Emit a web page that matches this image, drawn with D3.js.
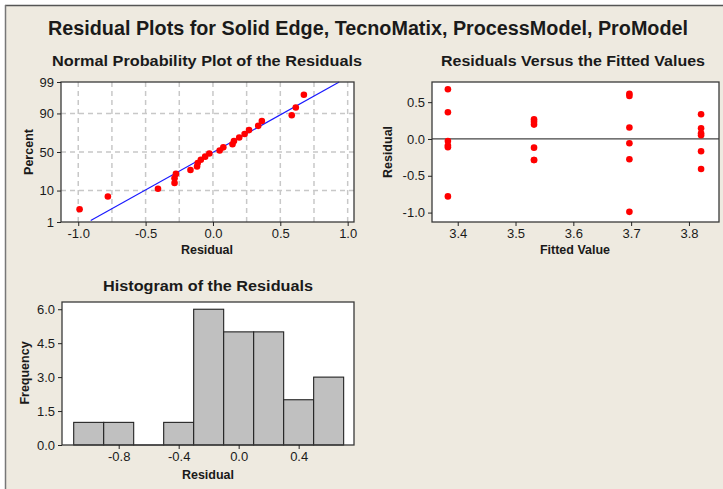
<!DOCTYPE html>
<html>
<head>
<meta charset="utf-8">
<script src="https://cdn.jsdelivr.net/npm/d3@7"></script>
<style>
  html, body { margin: 0; padding: 0; background: #ffffff; }
  svg { display: block; }
  text { font-family: "Liberation Sans", Arial, sans-serif; fill: #1a1a1a; }
  .ttl { font-weight: bold; }
</style>
</head>
<body>
<svg id="chart" width="723" height="489"></svg>
<script>
// ---- data ----
const fittedLevels = [3.383, 3.532, 3.697, 3.821];
const residualsG1 = [0.675, 0.363, -0.027, -0.090, -0.113, -0.780];
const residualsG2 = [0.268, 0.235, 0.195, -0.118, -0.285, -0.285];
const residualsG3 = [0.615, 0.585, 0.156, -0.058, -0.275, -0.990];
const residualsG4 = [0.336, 0.145, 0.077, 0.050, -0.167, -0.408];
const percentTicks = [1, 10, 50, 90, 99];
const normXTicks = [-1.0, -0.5, 0.0, 0.5, 1.0];
const normXGrid = [-1.0, -0.75, -0.5, -0.25, 0.0, 0.25, 0.5, 0.75, 1.0];
const normYGrid = [10, 50, 90];
const fitXTicks = [3.4, 3.5, 3.6, 3.7, 3.8];
const fitYTicks = [-1.0, -0.5, 0.0, 0.5];
const binEdges = [-1.1, -0.9, -0.7, -0.5, -0.3, -0.1, 0.1, 0.3, 0.5, 0.7];
const histXTicks = [-0.8, -0.4, 0.0, 0.4];
const histYTicks = [0.0, 1.5, 3.0, 4.5, 6.0];

const groups = [residualsG1, residualsG2, residualsG3, residualsG4];
const points = [];
groups.forEach((g, i) => g.forEach(r => points.push({ fit: fittedLevels[i], res: r })));
const allRes = points.map(p => p.res);

// ---- helpers ----
function invNorm(p) {
  const a = [-3.969683028665376e+01, 2.209460984245205e+02, -2.759285104469687e+02, 1.383577518672690e+02, -3.066479806614716e+01, 2.506628277459239e+00];
  const b = [-5.447609879822406e+01, 1.615858368580409e+02, -1.556989798598866e+02, 6.680131188771972e+01, -1.328068155288572e+01];
  const c = [-7.784894002430293e-03, -3.223964580411365e-01, -2.400758277161838e+00, -2.549732539343734e+00, 4.374664141464968e+00, 2.938163982698783e+00];
  const d = [7.784695709041462e-03, 3.224671290700398e-01, 2.445134137142996e+00, 3.754408661907416e+00];
  const pl = 0.02425, ph = 1 - pl;
  let q, r;
  if (p < pl) { q = Math.sqrt(-2 * Math.log(p)); return (((((c[0]*q+c[1])*q+c[2])*q+c[3])*q+c[4])*q+c[5]) / ((((d[0]*q+d[1])*q+d[2])*q+d[3])*q+1); }
  if (p > ph) { q = Math.sqrt(-2 * Math.log(1 - p)); return -(((((c[0]*q+c[1])*q+c[2])*q+c[3])*q+c[4])*q+c[5]) / ((((d[0]*q+d[1])*q+d[2])*q+d[3])*q+1); }
  q = p - 0.5; r = q * q;
  return (((((a[0]*r+a[1])*r+a[2])*r+a[3])*r+a[4])*r+a[5])*q / (((((b[0]*r+b[1])*r+b[2])*r+b[3])*r+b[4])*r+1);
}
const fmt1 = d => d3.format(".1f")(d).replace("\u2212", "-");

const svg = d3.select("#chart");
const BG = "#EEEAE0";
const FRAME = "#3a3a3a";

// outer panel
svg.append("rect").attr("x", 5).attr("y", 5).attr("width", 718).attr("height", 484).attr("fill", BG);
svg.append("line").attr("x1", 5).attr("x2", 723).attr("y1", 5.5).attr("y2", 5.5).attr("stroke", "#555").attr("stroke-width", 1.5);
svg.append("line").attr("x1", 5.5).attr("x2", 5.5).attr("y1", 5).attr("y2", 489).attr("stroke", "#777").attr("stroke-width", 1.5);

function fitText(sel, width) {
  sel.attr("textLength", width).attr("lengthAdjust", "spacingAndGlyphs");
  return sel;
}

// titles
fitText(svg.append("text").attr("class", "ttl").attr("x", 368).attr("y", 35).attr("text-anchor", "middle")
  .attr("font-size", 19.5).text("Residual Plots for Solid Edge, TecnoMatix, ProcessModel, ProModel"), 640);
fitText(svg.append("text").attr("class", "ttl").attr("x", 207).attr("y", 66).attr("text-anchor", "middle")
  .attr("font-size", 14.5).text("Normal Probability Plot of the Residuals"), 310);
fitText(svg.append("text").attr("class", "ttl").attr("x", 573).attr("y", 66).attr("text-anchor", "middle")
  .attr("font-size", 14.5).text("Residuals Versus the Fitted Values"), 264);
fitText(svg.append("text").attr("class", "ttl").attr("x", 208).attr("y", 291).attr("text-anchor", "middle")
  .attr("font-size", 14.5).text("Histogram of the Residuals"), 210);

function styleAxis(g) {
  g.select(".domain").remove();
  g.selectAll(".tick line").attr("stroke", "#222");
  g.selectAll(".tick text").attr("font-size", 13).attr("fill", "#111").attr("font-family", "Liberation Sans, Arial, sans-serif");
}

function box(g, x0, y0, x1, y1) {
  g.append("rect").attr("x", x0).attr("y", y0).attr("width", x1 - x0).attr("height", y1 - y0)
    .attr("fill", "none").attr("stroke", FRAME).attr("stroke-width", 1.3);
}

function axisLabel(x, y, txt, rotate) {
  const t = svg.append("text").attr("class", "ttl").attr("text-anchor", "middle").attr("font-size", 12.5).text(txt);
  if (rotate) t.attr("transform", `translate(${x},${y}) rotate(-90)`);
  else t.attr("x", x).attr("y", y);
  return t;
}

// ---------- Normal probability plot ----------
{
  const L = 61, R = 354, T = 82, B = 222;
  const x = d3.scaleLinear().domain([-1.128, 1.047]).range([L, R]);
  const zTop = invNorm(0.99), zBot = invNorm(0.01);
  const y = d3.scaleLinear().domain([zBot, zTop]).range([B, T]);
  const g = svg.append("g");
  g.append("rect").attr("x", L).attr("y", T).attr("width", R - L).attr("height", B - T).attr("fill", "#fff");
  g.selectAll(".vg").data(normXGrid).join("line")
    .attr("x1", d => x(d)).attr("x2", d => x(d)).attr("y1", T).attr("y2", B)
    .attr("stroke", "#c8c8c8").attr("stroke-width", 1.5).attr("stroke-dasharray", "5,4");
  g.selectAll(".hg").data(normYGrid).join("line")
    .attr("x1", L).attr("x2", R).attr("y1", d => y(invNorm(d / 100))).attr("y2", d => y(invNorm(d / 100)))
    .attr("stroke", "#c8c8c8").attr("stroke-width", 1.5).attr("stroke-dasharray", "5,4");
  const m = d3.mean(allRes), s = d3.deviation(allRes);
  const zl = [invNorm(0.0115), invNorm(0.99)];
  g.append("line").attr("x1", x(m + s * zl[0])).attr("y1", y(zl[0])).attr("x2", x(m + s * zl[1])).attr("y2", y(zl[1]))
    .attr("stroke", "#1a1aff").attr("stroke-width", 1.2);
  const sorted = allRes.slice().sort((a, b) => a - b);
  const n = sorted.length;
  g.selectAll(".pt").data(sorted).join("circle")
    .attr("cx", d => x(d)).attr("cy", (d, i) => y(invNorm((i + 1 - 0.3) / (n + 0.4))))
    .attr("r", 3.3).attr("fill", "#ff0000");
  box(g, L, T, R, B);
  const ax = g.append("g").attr("transform", `translate(0,${B})`)
    .call(d3.axisBottom(x).tickValues(normXTicks).tickFormat(fmt1).tickSizeOuter(0).tickSize(4).tickPadding(3));
  styleAxis(ax);
  const ay = g.append("g").attr("transform", `translate(${L},0)`)
    .call(d3.axisLeft(y).tickValues(percentTicks.map(p => invNorm(p / 100))).tickFormat((d, i) => percentTicks[i]).tickSizeOuter(0).tickSize(4).tickPadding(3));
  styleAxis(ay);
  axisLabel(207, 254, "Residual");
  axisLabel(33, 152, "Percent", true);
}

// ---------- Residuals vs fitted ----------
{
  const L = 432, R = 719, T = 82, B = 222;
  const x = d3.scaleLinear().domain([3.3555, 3.852]).range([L, R]);
  const y = d3.scaleLinear().domain([-1.128, 0.774]).range([B, T]);
  const g = svg.append("g");
  g.append("rect").attr("x", L).attr("y", T).attr("width", R - L).attr("height", B - T).attr("fill", "#fff");
  g.append("line").attr("x1", L).attr("x2", R).attr("y1", y(0)).attr("y2", y(0)).attr("stroke", "#444").attr("stroke-width", 1.2);
  g.selectAll(".pt").data(points).join("circle")
    .attr("cx", d => x(d.fit)).attr("cy", d => y(d.res)).attr("r", 3.3).attr("fill", "#ff0000");
  box(g, L, T, R, B);
  const ax = g.append("g").attr("transform", `translate(0,${B})`)
    .call(d3.axisBottom(x).tickValues(fitXTicks).tickFormat(fmt1).tickSizeOuter(0).tickSize(4).tickPadding(3));
  styleAxis(ax);
  const ay = g.append("g").attr("transform", `translate(${L},0)`)
    .call(d3.axisLeft(y).tickValues(fitYTicks).tickFormat(fmt1).tickSizeOuter(0).tickSize(4).tickPadding(3));
  styleAxis(ay);
  axisLabel(575, 254, "Fitted Value");
  axisLabel(392, 152, "Residual", true);
}

// ---------- Histogram ----------
{
  const L = 62, R = 354, T = 302, B = 445;
  const x = d3.scaleLinear().domain([-1.178, 0.769]).range([L, R]);
  const y = d3.scaleLinear().domain([0, 6.32]).range([B, T]);
  const bins = d3.bin().domain([binEdges[0], binEdges[binEdges.length - 1]]).thresholds(binEdges.slice(1, -1))(allRes);
  const g = svg.append("g");
  g.append("rect").attr("x", L).attr("y", T).attr("width", R - L).attr("height", B - T).attr("fill", "#fff");
  g.selectAll(".bar").data(bins).join("rect")
    .attr("x", d => x(d.x0)).attr("width", d => x(d.x1) - x(d.x0))
    .attr("y", d => y(d.length)).attr("height", d => Math.max(0.01, B - y(d.length)))
    .attr("fill", "#c0c0c0").attr("stroke", "#222").attr("stroke-width", 1.1);
  box(g, L, T, R, B);
  const ax = g.append("g").attr("transform", `translate(0,${B})`)
    .call(d3.axisBottom(x).tickValues(histXTicks).tickFormat(fmt1).tickSizeOuter(0).tickSize(4).tickPadding(3));
  styleAxis(ax);
  const ay = g.append("g").attr("transform", `translate(${L},0)`)
    .call(d3.axisLeft(y).tickValues(histYTicks).tickFormat(fmt1).tickSizeOuter(0).tickSize(4).tickPadding(3));
  styleAxis(ay);
  axisLabel(208, 479, "Residual");
  axisLabel(29, 373, "Frequency", true);
}
</script>
</body>
</html>
